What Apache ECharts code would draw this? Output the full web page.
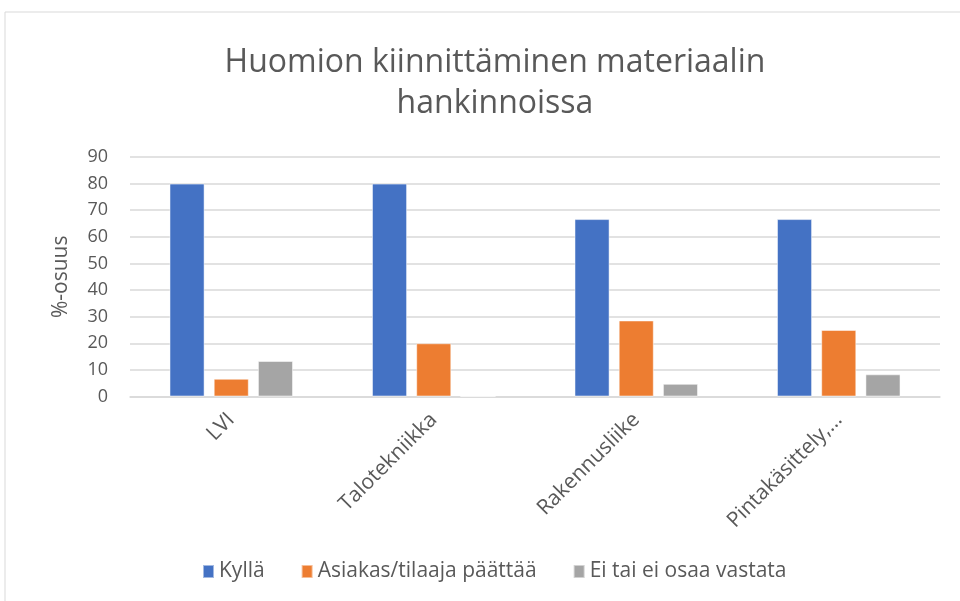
<!DOCTYPE html>
<html>
<head>
<meta charset="utf-8">
<script src="https://cdn.jsdelivr.net/npm/echarts@6/dist/echarts.min.js"></script>
<style>
  html, body { margin: 0; padding: 0; background: #fff; }
  #chart { width: 960px; height: 601px; }
</style>
</head>
<body>
<div id="chart"></div>
<script>
  // data
  const categories = ['LVI', 'Talotekniikka', 'Rakennusliike', 'Pintakäsittely,…'];
  const kylla = [80, 80, 66.67, 66.67];
  const asiakas = [6.67, 20, 28.57, 25];
  const eiTiedä = [13.33, 0, 4.76, 8.33];
  const seriesNames = ['Kyllä', 'Asiakas/tilaaja päättää', 'Ei tai ei osaa vastata'];
  const colors = ['#4472C4', '#ED7D31', '#A5A5A5'];

  const font = '"Open Sans", sans-serif';
  const txt = '#595959';

  let myChart = echarts.init(document.getElementById('chart'));

  const mkBar = (name, data, color) => ({
    name: name,
    type: 'bar',
    data: data,
    barGap: '26%',
    barCategoryGap: '39%',
    itemStyle: { color: color, borderColor: 'rgba(255,255,255,0.5)', borderWidth: 1 }
  });

  myChart.setOption({
    animation: false,
    color: colors,
    title: {
      text: 'Huomion kiinnittäminen materiaalin\nhankinnoissa',
      left: 490,
      textAlign: 'center',
      top: 37,
      textStyle: { fontFamily: font, fontSize: 32, fontWeight: 'normal', color: txt, lineHeight: 41 }
    },
    graphic: [{
      type: 'rect',
      shape: { x: 5, y: 12, width: 1000, height: 700 },
      style: { fill: 'none', stroke: '#d9d9d9', lineWidth: 1 },
      silent: true
    }],
    legend: {
      bottom: 14,
      left: 197,
      itemWidth: 11,
      itemHeight: 13,
      itemGap: 36,
      icon: 'rect',
      textStyle: { fontFamily: font, fontSize: 21, color: txt },
      data: seriesNames
    },
    grid: { left: 130, right: 20, top: 157, bottom: 204.5, containLabel: false },
    xAxis: {
      type: 'category',
      data: categories,
      axisTick: { show: false },
      axisLine: { lineStyle: { color: '#d9d9d9', width: 1.5 } },
      axisLabel: { rotate: 45, interval: 0, margin: 20, fontFamily: font, fontSize: 21, color: txt }
    },
    yAxis: {
      type: 'value',
      min: 0,
      max: 90,
      interval: 10,
      name: '%-osuus',
      nameLocation: 'middle',
      nameGap: 58,
      nameTextStyle: { fontFamily: font, fontSize: 21, color: txt },
      axisLine: { show: false },
      axisTick: { show: false },
      axisLabel: { margin: 22, fontFamily: font, fontSize: 18, color: txt },
      splitLine: { lineStyle: { color: '#d9d9d9', width: 1.5 } }
    },
    series: [
      mkBar(seriesNames[0], kylla, colors[0]),
      mkBar(seriesNames[1], asiakas, colors[1]),
      mkBar(seriesNames[2], eiTiedä, colors[2])
    ]
  });
</script>
</body>
</html>
